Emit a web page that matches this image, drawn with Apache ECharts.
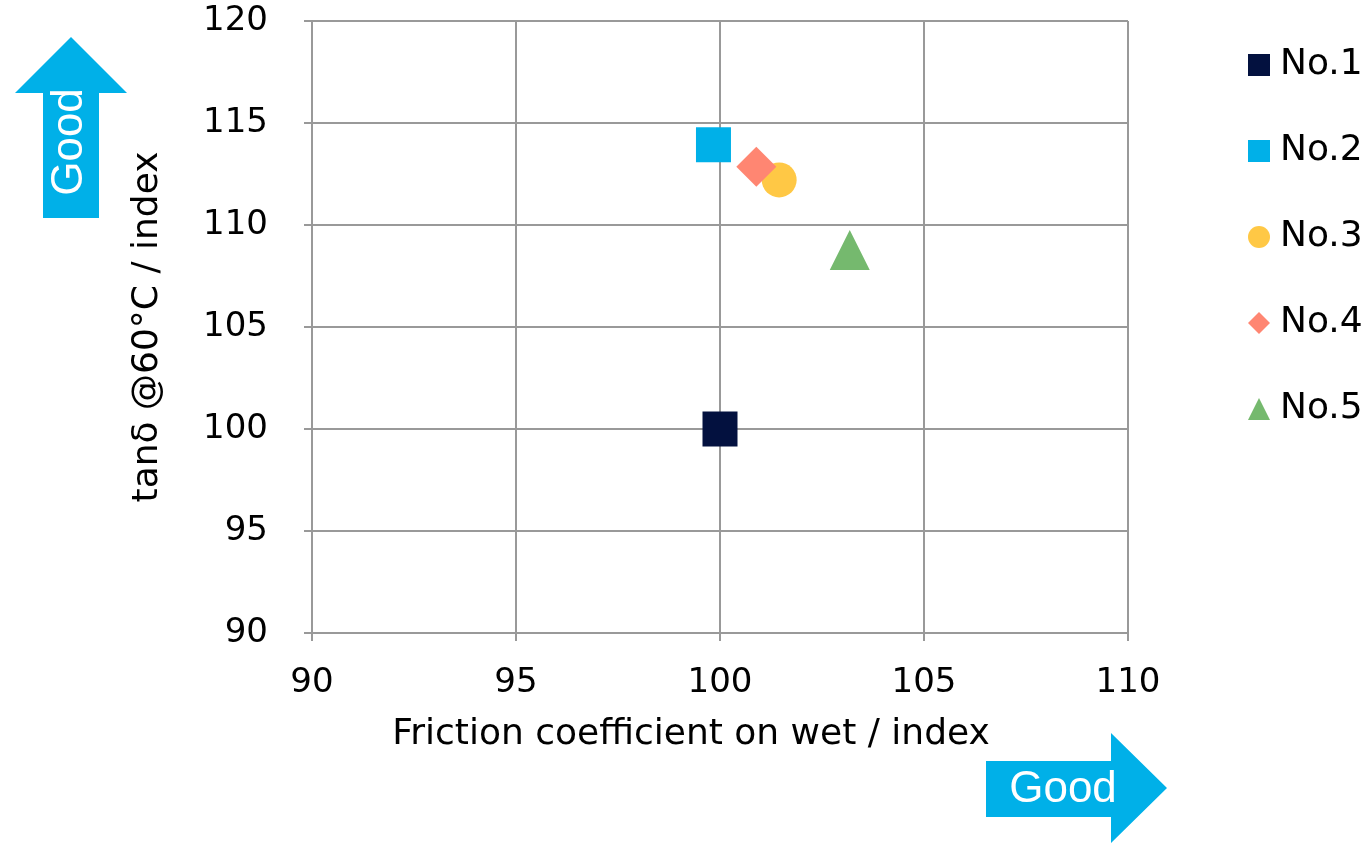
<!DOCTYPE html>
<html>
<head>
<meta charset="utf-8">
<script src="https://cdn.jsdelivr.net/npm/echarts@6/dist/echarts.min.js"></script>
<style>
html,body{margin:0;padding:0;background:#fff;}
#chart{width:1371px;height:843px;}
</style>
</head>
<body>
<div id="chart"></div>
<script>
const seriesNames = ['No.1', 'No.2', 'No.3', 'No.4', 'No.5'];
const frictionValues = [100.0, 99.84, 101.45, 100.89, 103.18];
const tanDeltaValues = [100.0, 113.93, 112.21, 112.85, 108.77];
const xTicks = [90, 95, 100, 105, 110];
const yTicks = [90, 95, 100, 105, 110, 115, 120];

const colors = ['#03113f', '#00b0e8', '#ffc845', '#ff8672', '#75b96e'];
const symbols = ['rect', 'rect', 'circle', 'diamond', 'triangle'];
const sizes = [35, 35, 35, 40, 40];
const FONT = '"DejaVu Sans", sans-serif';

const chart = echarts.init(document.getElementById('chart'), null, {renderer: 'canvas'});
const series = seriesNames.map((n, i) => ({
  name: n,
  type: 'scatter',
  symbol: symbols[i],
  symbolSize: sizes[i],
  itemStyle: {color: colors[i], opacity: 1},
  data: [[frictionValues[i], tanDeltaValues[i]]],
  z: 3
}));

chart.setOption({
  animation: false,
  grid: {left: 312, right: 243, top: 21, bottom: 210, containLabel: false},
  xAxis: {
    type: 'value', min: xTicks[0], max: xTicks[xTicks.length-1], interval: 5,
    name: 'Friction coefficient on wet / index', nameLocation: 'middle', nameGap: 84,
    nameTextStyle: {fontSize: 36, color: '#000', fontFamily: FONT, padding: [0, 58, 0, 0]},
    axisLine: {show: true, lineStyle: {color: '#999', width: 2}},
    axisTick: {show: true, length: 8, lineStyle: {color: '#999', width: 2}},
    axisLabel: {fontSize: 34, color: '#000', margin: 33, fontFamily: FONT},
    splitLine: {show: true, lineStyle: {color: '#999', width: 2}}
  },
  yAxis: {
    type: 'value', min: yTicks[0], max: yTicks[yTicks.length-1], interval: 5,
    name: 'tan\u03b4 @60\u00b0C / index', nameLocation: 'middle', nameGap: 146, nameRotate: 90,
    nameTextStyle: {fontSize: 36, color: '#000', fontFamily: FONT},
    axisLine: {show: true, lineStyle: {color: '#999', width: 2}},
    axisTick: {show: true, length: 8, lineStyle: {color: '#999', width: 2}},
    axisLabel: {fontSize: 34, color: '#000', margin: 44, fontFamily: FONT},
    splitLine: {show: true, lineStyle: {color: '#999', width: 2}}
  },
  legend: {
    orient: 'vertical', left: 1248, top: 47, padding: 0, itemGap: 50, itemWidth: 22, itemHeight: 22,
    textStyle: {fontSize: 36, lineHeight: 36, color: '#000', fontFamily: FONT, padding: [0,0,0,5]},
    data: seriesNames.map((n, i) => ({name: n, icon: symbols[i]}))
  },
  graphic: [
    {type: 'polygon', shape: {points: [[43,218],[99,218],[99,93],[127,93],[71,37],[15,93],[43,93]]}, style: {fill: '#00b0e8'}},
    {type: 'text', x: 70, y: 142, rotation: Math.PI/2, style: {text: 'Good', fill: '#fff', font: '44px "Liberation Sans", Arial, sans-serif', align: 'center', verticalAlign: 'middle'}},
    {type: 'polygon', shape: {points: [[986,761],[1111,761],[1111,733],[1167,788],[1111,843],[1111,817],[986,817]]}, style: {fill: '#00b0e8'}},
    {type: 'text', x: 1063, y: 790, style: {text: 'Good', fill: '#fff', font: '44px "Liberation Sans", Arial, sans-serif', align: 'center', verticalAlign: 'middle'}}
  ],
  series: series
});
</script>
</body>
</html>
